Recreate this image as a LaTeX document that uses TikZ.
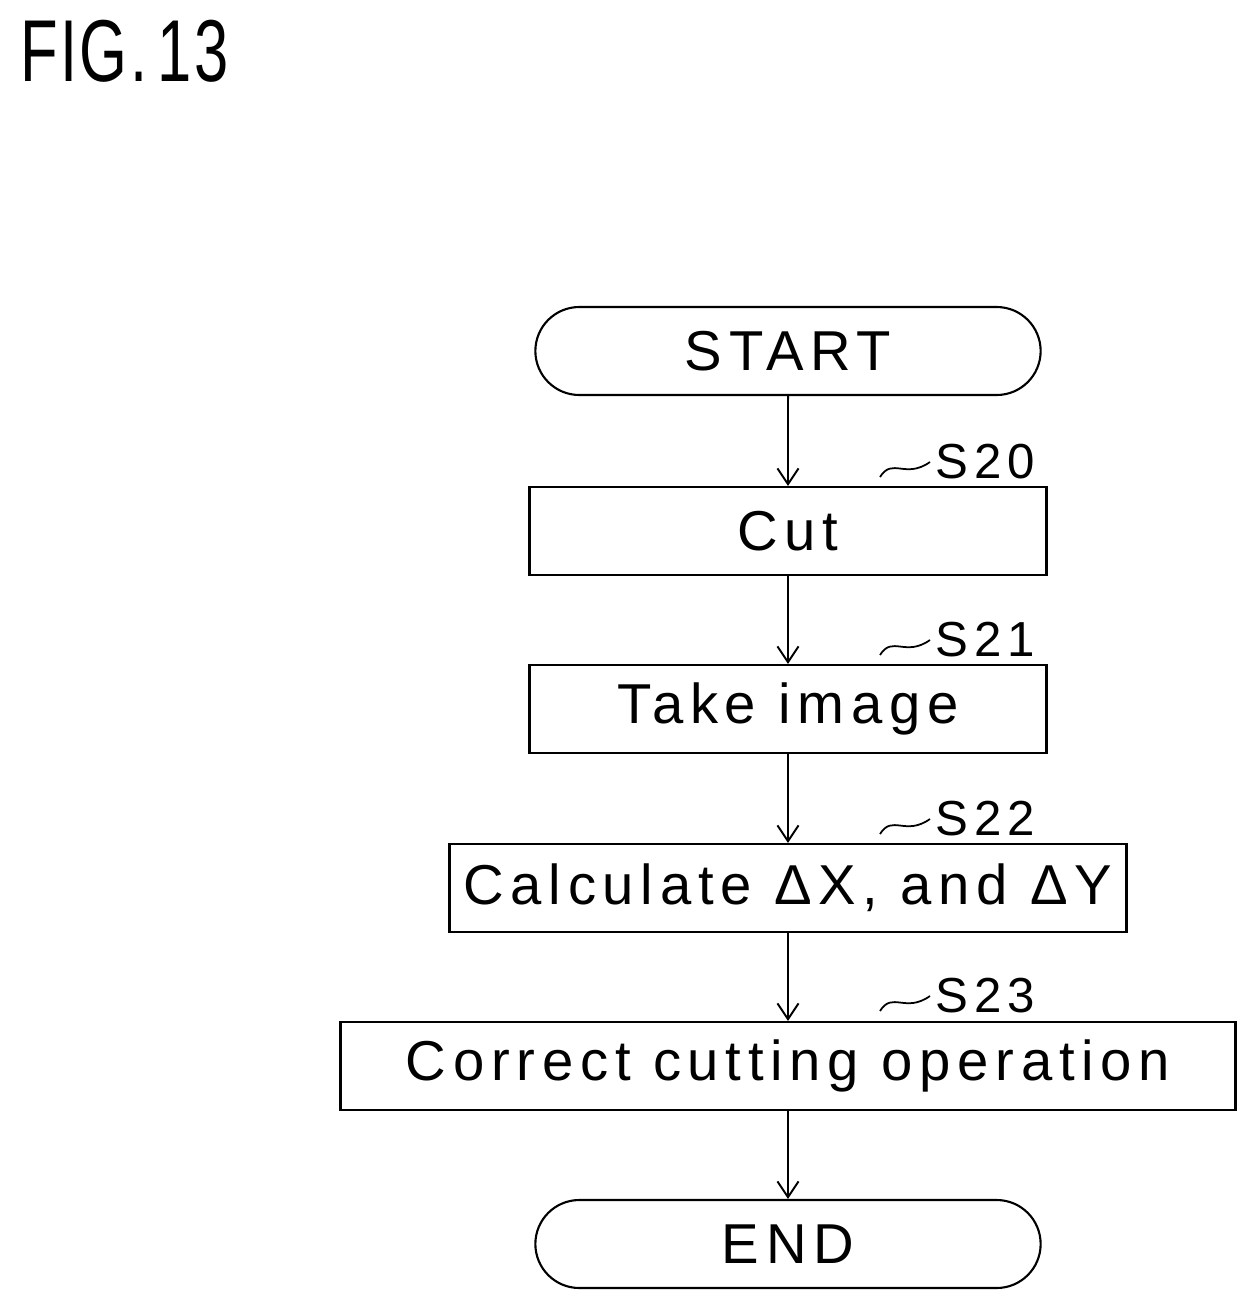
\documentclass[tikz,border=0pt]{standalone}
\usepackage{fontspec}
\setmainfont{Liberation Sans}[LetterSpace=12]
\usetikzlibrary{positioning,arrows.meta,shapes.misc}
\tikzset{
  stepbox/.style={draw, line width=1.2pt, minimum height=1.76cm, font=\fontsize{32}{36}\selectfont},
  term/.style={stepbox, rounded rectangle, minimum width=10.34cm},
  flow/.style={line width=1.1pt, -{Straight Barb[length=9pt,width=12pt]}},
  tag/.style={font=\fontsize{28}{32}\selectfont, anchor=west, inner sep=0pt}
}
\begin{document}
\begin{tikzpicture}
\useasboundingbox (0,0) rectangle (25.16,-26.24);
\node[anchor=north west, inner sep=0pt, xscale=0.7, font=\fontsize{50}{54}\selectfont\addfontfeature{LetterSpace=4}] (fig) at (0.4,-0.4) {FIG.\,13};

\node[term] (start) at (15.76,-7.02) {START};
\node[stepbox, minimum width=10.34cm] (s20) at (15.76,-10.62) {Cut};
\node[stepbox, minimum width=10.34cm] (s21) at (15.76,-14.18) {Take image};
\node[stepbox, minimum width=13.54cm] (s22) at (15.76,-17.76) {Calculate ΔX, and ΔY};
\node[stepbox, minimum width=17.9cm] (s23) at (15.76,-21.32) {Correct cutting operation};
\node[term] (end) at (15.76,-24.88) {END};

\draw[flow] (start) -- (s20);
\draw[flow] (s20) -- (s21);
\draw[flow] (s21) -- (s22);
\draw[flow] (s22) -- (s23);
\draw[flow] (s23) -- (end);

% step labels
\foreach \n/\y in {20/-9.24, 21/-12.8, 22/-16.38, 23/-19.92} {
  \node[tag] (l\n) at (18.7,\y) {S\n};
  \draw[line width=1pt] (17.6,\y-0.3) .. controls (17.85,\y+0.1) and (18.1,\y-0.35) .. (18.6,\y);
}
\end{tikzpicture}
\end{document}
